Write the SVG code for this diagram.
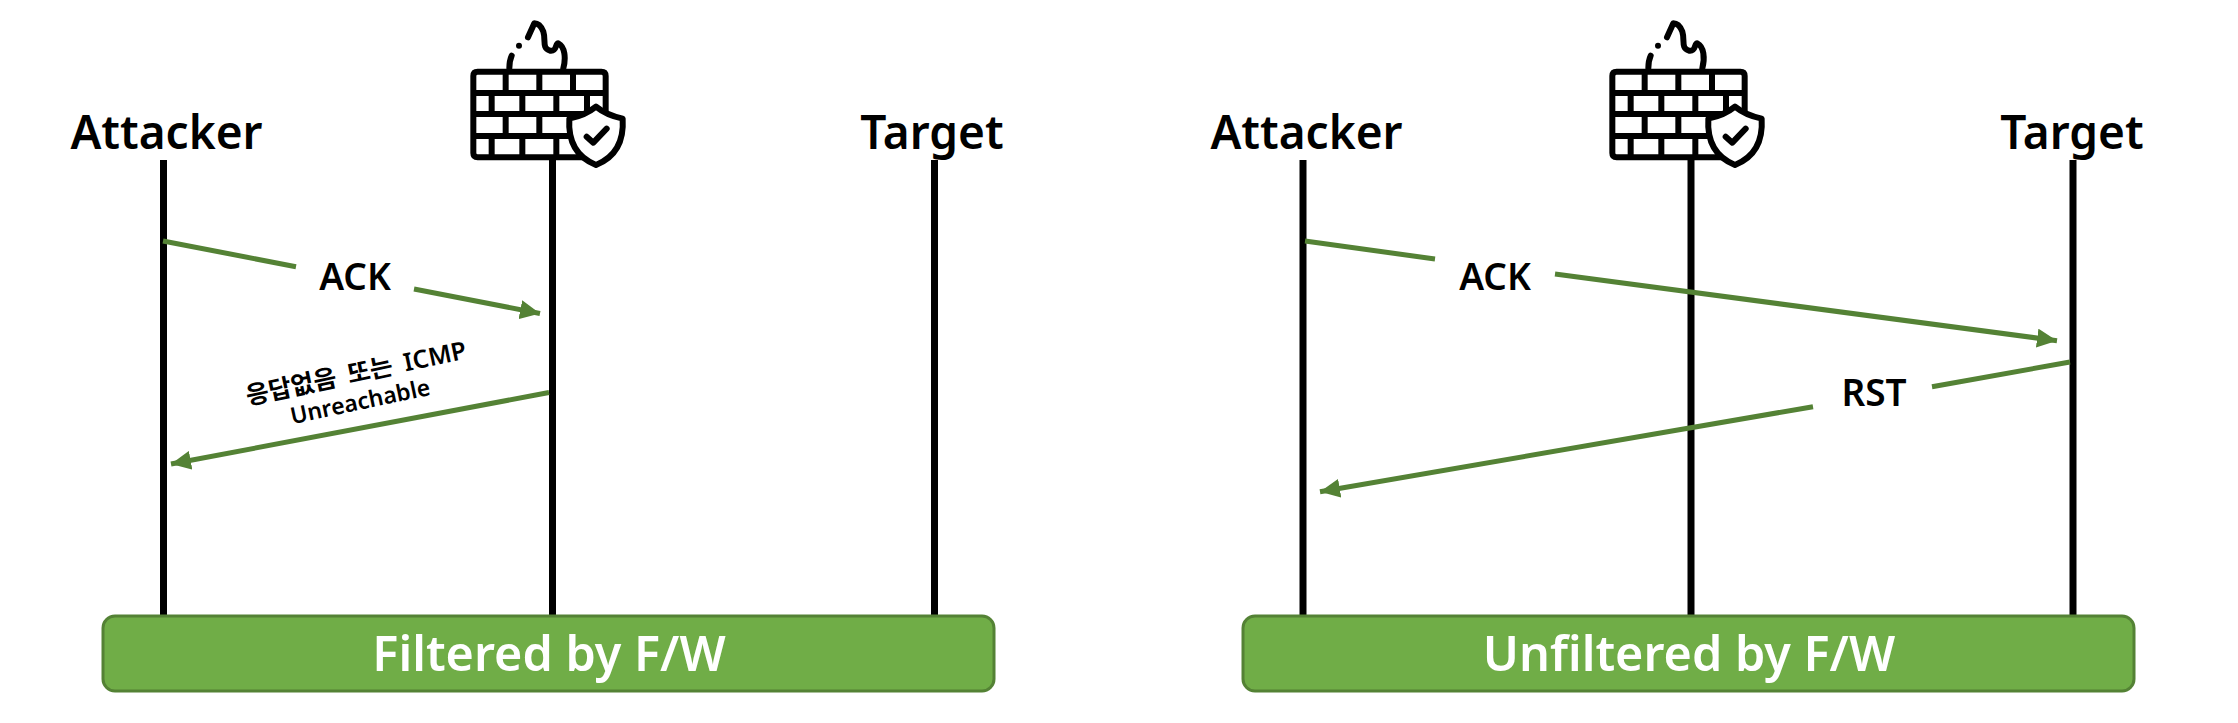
<svg xmlns="http://www.w3.org/2000/svg" xmlns:xlink="http://www.w3.org/1999/xlink" width="2238" height="723" viewBox="0 0 2238 723">
<style>
text{font-family:"Noto Sans","Noto Sans CJK KR","Open Sans",sans-serif;font-weight:600;fill:#000;text-anchor:middle}
.head{font-size:46px}
.msg{font-size:37px}
.small{font-size:23px}
.ko{font-size:25px;word-spacing:5px}
.bar{fill:#70ad47;stroke:#548235;stroke-width:3}
.bartext{font-size:48.500px;fill:#fff}
.life{stroke:#000;stroke-width:7;fill:none}
.arrow{stroke:#548235;stroke-width:5;fill:none}
.ic{fill:none;stroke:#000;stroke-width:18;stroke-linecap:round;stroke-linejoin:round}
.icb{fill:none;stroke:#000;stroke-width:18}
</style>
<defs>
<marker id="ah" markerUnits="userSpaceOnUse" markerWidth="21" markerHeight="19" refX="20" refY="9.500" orient="auto"><path d="M0 0L20 9.500L0 19Z" fill="#548235"/></marker>
<g id="fw" transform="translate(440 0) scale(.33333)">
<path class="icb" d="M113 215H484Q497 215 497 228V459Q497 472 484 472H113Q100 472 100 459V228Q100 215 113 215ZM100 279H497M100 342H497M100 408H497M197 215V279M298 215V279M399 215V279M155 279V342M247 279V342M349 279V342M441 279V342M197 342V408M298 342V408M399 342V408M155 408V472M247 408V472M349 408V472"/>
<path class="ic" d="M208 205Q208 182 215 167M264 112L283 70Q300 70 310 95C318 120 305 145 330 152C352 155 345 130 355 130C375 140 378 175 370 205"/>
<circle cx="237" cy="137" r="9"/>
<path d="M468 320C495 342 520 350 548 356C552 420 530 470 468 495C406 470 384 420 388 356C416 350 441 342 468 320Z" fill="#fff" stroke="#000" stroke-width="18" stroke-linejoin="round"/>
<path class="ic" d="M440 410L460 428L500 386"/>
</g>
</defs>
<g id="connectors">
<path class="life" d="M163.500 160V615M552.500 160V615M934.500 160V615M1303 160V615M1691 160V615M2073 160V615"/>
<path class="arrow" d="M163 241L296 266.700"/>
<path class="arrow" d="M414 289L540 313.500" marker-end="url(#ah)"/>
<path class="arrow" d="M549 392.500L171 464" marker-end="url(#ah)"/>
<path class="arrow" d="M1305 241L1435 259"/>
<path class="arrow" d="M1555 274L2057 340.700" marker-end="url(#ah)"/>
<path class="arrow" d="M2070 362L1932 386.700"/>
<path class="arrow" d="M1813 406.700L1320 491.700" marker-end="url(#ah)"/>
</g>
<g id="filtered">
<g id="attacker-1"><text class="head" x="166.500" y="149">Attacker</text></g>
<g id="firewall-1"><use xlink:href="#fw" href="#fw"/></g>
<g id="target-1"><text class="head" x="932" y="149">Target</text></g>
<g id="ack-1"><text class="msg" x="355" y="290">ACK</text></g>
<g id="no-response"><g transform="rotate(-12 356 382)"><text class="small ko" x="358" y="382">응답없음 또는 ICMP</text><text class="small" x="356" y="410">Unreachable</text></g></g>
<g id="bar-1"><rect class="bar" x="103" y="616" width="891" height="75" rx="12"/><text class="bartext" x="549" y="671">Filtered by F/W</text></g>
</g>
<g id="unfiltered">
<g id="attacker-2"><text class="head" x="1306.500" y="149">Attacker</text></g>
<g id="firewall-2"><use xlink:href="#fw" href="#fw" x="1139"/></g>
<g id="target-2"><text class="head" x="2072" y="149">Target</text></g>
<g id="ack-2"><text class="msg" x="1495" y="290">ACK</text></g>
<g id="rst"><text class="msg" x="1874" y="406">RST</text></g>
<g id="bar-2"><rect class="bar" x="1243" y="616" width="891" height="75" rx="12"/><text class="bartext" x="1689" y="671">Unfiltered by F/W</text></g>
</g>
</svg>
